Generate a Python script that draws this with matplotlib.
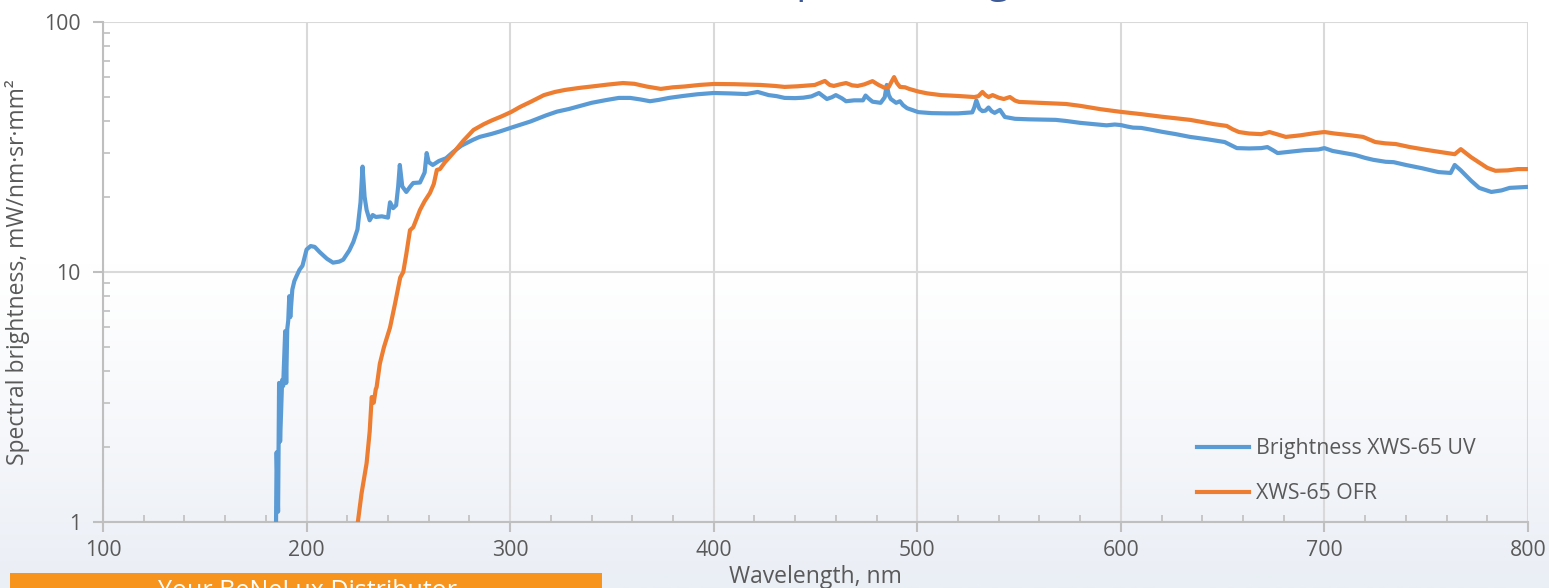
import numpy as np
import matplotlib.pyplot as plt
from matplotlib.patches import Rectangle
from matplotlib.colors import to_rgb

plt.rcParams['font.family'] = ['Open Sans', 'DejaVu Sans']

# Brightness XWS-65 UV (wavelength nm, mW/nm·sr·mm²)
uv_nm = [185.0, 185.3, 186.0, 186.5, 187.0, 188.0, 188.5, 189.5, 190.0, 190.5, 191.0, 191.5,
         192.0, 193.0, 194.0, 195.0, 196.5, 198.0, 200.0, 202.0, 204.0, 206.5, 210.0, 213.0,
         216.0, 218.0, 221.0, 223.0, 225.0, 226.5, 227.5, 228.5, 229.5, 231.0, 232.5, 234.0,
         237.0, 240.0, 241.0, 242.5, 244.0, 245.0, 245.8, 247.0, 249.0, 251.0, 252.4, 255.7,
         258.0, 259.0, 260.0, 262.0, 265.0, 268.5, 272.0, 276.0, 281.8, 285.0, 291.0, 295.0,
         300.6, 305.0, 310.0, 317.6, 323.0, 329.0, 335.0, 340.0, 347.0, 353.4, 359.0, 364.0,
         368.7, 373.0, 378.0, 385.0, 392.0, 400.0, 408.0, 416.0, 421.6, 427.0, 431.0, 434.8,
         440.0, 444.0, 448.0, 451.7, 455.6, 458.0, 460.0, 463.0, 465.0, 469.0, 473.3, 474.6,
         476.0, 478.0, 482.0, 484.0, 485.0, 486.0, 487.0, 489.6, 491.5, 493.0, 495.0, 500.5,
         507.0, 514.0, 520.0, 525.0, 527.0, 528.0, 529.0, 530.5, 532.0, 533.5, 535.0, 536.5,
         538.0, 540.6, 543.0, 548.0, 555.0, 562.0, 568.0, 573.0, 580.0, 587.0, 593.0, 597.0,
         600.0, 603.0, 606.0, 610.0, 614.0, 620.0, 627.0, 634.0, 642.0, 648.0, 651.0, 654.0,
         657.0, 663.0, 669.0, 672.0, 675.0, 677.0, 682.0, 690.0, 697.0, 700.0, 704.0, 710.0,
         715.0, 720.0, 724.0, 730.0, 734.0, 740.0, 748.0, 756.0, 762.0, 764.0, 767.0, 772.0,
         776.0, 782.0, 787.0, 791.0, 796.0, 800.0]
uv_val = [1.0, 1.9, 1.1, 3.6, 2.1, 3.7, 3.5, 5.8, 3.6, 5.9, 6.4, 8.0,
          6.6, 8.5, 9.2, 9.6, 10.2, 10.6, 12.3, 12.7, 12.6, 12.0, 11.3, 10.9,
          11.0, 11.2, 12.2, 13.2, 14.8, 19.0, 26.4, 20.0, 17.7, 16.1, 16.9, 16.6,
          16.7, 16.5, 19.0, 18.0, 18.5, 22.0, 26.8, 22.0, 20.9, 22.0, 22.7, 22.8,
          25.0, 29.9, 27.5, 26.8, 27.8, 28.5, 30.2, 32.0, 33.8, 34.7, 35.7, 36.5,
          37.8, 38.8, 40.0, 42.3, 43.8, 44.9, 46.3, 47.5, 48.7, 49.7, 49.7, 49.0,
          48.2, 48.8, 49.7, 50.6, 51.4, 52.0, 51.8, 51.5, 52.5, 51.0, 50.5, 49.7,
          49.6, 49.8, 50.4, 52.0, 49.2, 50.0, 51.0, 49.5, 48.2, 48.6, 48.6, 50.8,
          49.5, 48.0, 47.5, 50.0, 56.0, 51.0, 49.2, 47.5, 48.2, 46.5, 45.2, 43.6,
          43.2, 43.1, 43.1, 43.4, 43.5, 45.5, 48.6, 45.0, 44.0, 44.2, 45.5, 44.0,
          43.3, 44.5, 41.7, 41.0, 40.8, 40.7, 40.6, 40.2, 39.5, 39.0, 38.6, 38.9,
          38.7, 38.2, 37.8, 37.7, 37.2, 36.4, 35.6, 34.7, 34.0, 33.4, 33.1, 32.2,
          31.3, 31.2, 31.3, 31.6, 30.6, 29.9, 30.2, 30.7, 30.9, 31.3, 30.5, 29.9,
          29.4, 28.6, 28.1, 27.6, 27.5, 26.8, 26.0, 25.1, 24.9, 26.8, 25.5, 23.2,
          21.7, 20.9, 21.2, 21.7, 21.8, 21.9]

# XWS-65 OFR
ofr_nm = [225.2, 227.0, 229.5, 231.0, 232.0, 233.0, 234.0, 234.4, 236.0, 238.0, 241.0, 243.5,
          246.0, 247.5, 249.0, 250.8, 252.4, 254.0, 255.7, 258.0, 260.6, 262.5, 264.0, 265.5,
          268.0, 272.0, 277.0, 282.0, 287.0, 291.0, 296.0, 300.6, 305.0, 310.0, 316.6, 322.0,
          327.0, 334.0, 340.0, 348.0, 355.4, 361.0, 367.0, 374.0, 380.0, 385.6, 393.0, 400.0,
          410.0, 423.0, 430.0, 434.8, 441.0, 449.7, 454.6, 457.0, 459.0, 462.0, 465.0, 468.0,
          470.7, 474.0, 478.0, 481.0, 484.0, 486.0, 487.5, 488.6, 490.0, 491.5, 494.0, 496.0,
          500.5, 505.0, 511.6, 520.0, 528.0, 530.0, 532.0, 533.5, 535.0, 537.0, 540.0, 542.5,
          545.5, 548.0, 550.0, 560.0, 573.0, 580.0, 590.0, 600.0, 610.0, 620.0, 627.0, 634.0,
          640.0, 646.0, 652.0, 655.0, 658.0, 663.0, 669.0, 673.0, 677.0, 681.0, 688.0, 695.0,
          700.0, 705.0, 712.0, 719.0, 725.0, 730.0, 735.0, 742.0, 750.0, 758.0, 764.0, 767.0,
          772.0, 780.0, 784.0, 790.0, 795.0, 800.0]
ofr_val = [1.0, 1.3, 1.72, 2.3, 3.16, 3.0, 3.4, 3.46, 4.3, 5.0, 6.0, 7.5,
           9.5, 10.0, 11.8, 14.7, 15.1, 16.3, 17.7, 19.2, 20.7, 22.5, 25.6, 25.8,
           27.5, 29.9, 33.5, 37.0, 39.0, 40.4, 42.0, 43.7, 45.8, 47.9, 51.0, 52.5,
           53.5, 54.5, 55.2, 56.2, 57.0, 56.6, 55.2, 54.0, 54.8, 55.2, 56.0, 56.5,
           56.4, 56.0, 55.5, 55.0, 55.3, 56.0, 58.1, 56.0, 55.5, 56.3, 57.0, 55.8,
           55.5, 56.3, 58.0, 56.0, 54.5, 55.0, 58.0, 60.2, 57.0, 55.0, 54.8, 54.0,
           52.7, 51.8, 51.0, 50.6, 50.1, 50.5, 52.5, 51.0, 50.1, 51.0, 49.8, 49.2,
           50.1, 48.5, 47.9, 47.5, 47.0, 46.2, 44.8, 43.7, 42.8, 41.8, 41.2, 40.6,
           39.8, 39.0, 38.4, 37.2, 36.3, 35.8, 35.6, 36.3, 35.5, 34.7, 35.2, 35.9,
           36.3, 35.8, 35.3, 34.7, 33.1, 32.7, 32.5, 31.6, 30.8, 30.1, 29.6, 31.0,
           28.8, 26.1, 25.4, 25.5, 25.8, 25.8]

x_ticks = [100, 200, 300, 400, 500, 600, 700, 800]
y_ticks = [1, 10, 100]

fig = plt.figure(figsize=(15.49, 5.88), dpi=100)

# light gradient backdrop
bg = fig.add_axes([0, 0, 1, 1], zorder=-10)
rows = np.linspace(0, 1, 300)
t = np.clip((rows - 0.45) / 0.55, 0, 1) ** 1.2
top = np.array(to_rgb('#ffffff'))
bot = np.array(to_rgb('#eaeef5'))
grad = top[None, :] * (1 - t[:, None]) + bot[None, :] * t[:, None]
bg.imshow(grad[:, None, :], aspect='auto', extent=[0, 1, 0, 1], origin='upper')
bg.set_axis_off()

ax = fig.add_axes([103 / 1549, 1 - 522 / 588, 1425 / 1549, 500 / 588])
ax.patch.set_alpha(0)

ax.plot(uv_nm, uv_val, color='#5b9bd5', lw=3, label='Brightness XWS-65 UV',
        solid_joinstyle='round', zorder=3)
ax.plot(ofr_nm, ofr_val, color='#ed7d31', lw=3, label='XWS-65 OFR',
        solid_joinstyle='round', zorder=3)

ax.set_yscale('log')
ax.set_xlim(100, 800)
ax.set_ylim(1, 100)
ax.set_xticks(x_ticks)
ax.set_xticks(np.arange(100, 801, 20), minor=True)
ax.set_yticks(y_ticks)
ax.set_yticklabels(['1', '10', '100'])
ax.set_xticklabels([str(v) for v in x_ticks])

ax.grid(True, which='major', color='#d9d9d9', lw=1.5, zorder=0)
for s in ['top', 'right']:
    ax.spines[s].set_visible(False)
for s in ['left', 'bottom']:
    ax.spines[s].set_color('#bfbfbf')
    ax.spines[s].set_linewidth(1.5)

ax.tick_params(which='major', direction='out', length=7, width=1.5, color='#bfbfbf',
               labelsize=15.3, labelcolor='#595959')
ax.tick_params(axis='y', which='major', pad=9)
ax.tick_params(axis='x', which='major', pad=6)
ax.tick_params(which='minor', direction='in', length=5, width=1.2, color='#bfbfbf')
ax.tick_params(axis='y', which='minor', labelleft=False)

ax.set_xlabel('Wavelength, nm', fontsize=16.5, color='#595959')
ax.set_ylabel('Spectral brightness, mW/nm·sr·mm²', fontsize=16.5, color='#595959')
ax.xaxis.set_label_coords(0.5, -0.086)
ax.yaxis.set_label_coords(-0.051, 0.5)

leg = ax.legend(loc='lower left', bbox_to_anchor=(0.768, 0.036), frameon=False,
                fontsize=15.3, labelcolor='#595959', handlelength=2.45,
                handletextpad=0.3, labelspacing=1.12, borderpad=0, borderaxespad=0)

# top title, mostly cut off by the frame
fig.text(774 / 1549, 1 + 8 / 588, 'Spectral brightness', fontsize=29, color='#3e5a96',
         ha='left', va='baseline')

# distributor banner at the bottom-left
fig.patches.append(Rectangle((10 / 1549, 0), 592 / 1549, 15 / 588, transform=fig.transFigure,
                             facecolor='#f7941d', edgecolor='none', zorder=5))
fig.text(307 / 1549, 1 - 579 / 588, 'Your BeNeLux Distributor', fontsize=18, color='white',
         ha='center', va='top', zorder=6)

fig.savefig('out.png', dpi=100)
